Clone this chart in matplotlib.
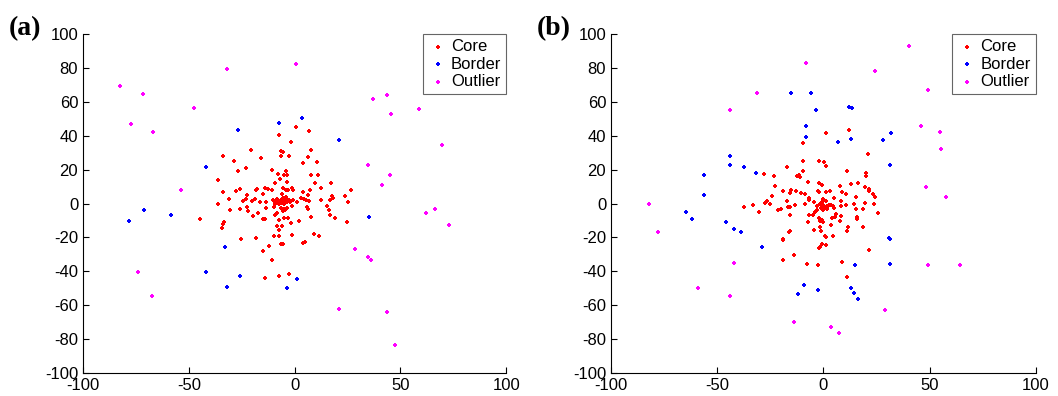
import numpy as np
import matplotlib
matplotlib.use("Agg")
import matplotlib.pyplot as plt

plt.rcParams["axes.unicode_minus"] = False

# ---- panel (a) ----
a_core_x = [0.8, 6.9, -7.2, -1.9, -20.8, -6.5, -5.7, 7.7, -33.7, -15.7, -6.5, -2.8, 6.1, -28.8, 3.9,
            10.4, -27.0, -22.8, -10.7, -7.9, -4.3, -4.9, -3.5, 7.7, 11.2, -6.9, -3.8, 9.8, 17.2, -36.1,
            -9.1, -1.4, -0.8, 12.6, -25.7, -17.8, -13.9, -12.6, -10.7, -5.7, -4.1, -3.0, 7.4, 26.8, -33.7,
            -27.9, -18.3, -14.8, -22.5, 3.8, -6.0, 6.3, 17.8, 18.3, 23.9, -31.2, -23.0, -18.9, 3.0, 4.4,
            16.5, -24.6, -20.2, -16.2, -13.5, -10.1, -9.1, -8.3, -7.6, -6.5, -5.7, -5.0, -4.3, -3.5, -2.8,
            -0.6, 1.1, 5.4, 6.8, 12.6, 25.0, -36.1, -9.1, -7.6, -6.5, -5.0, -1.1, -22.5, -13.5, -9.9,
            -6.5, -5.0, -3.5, 5.8, 15.3, -30.7, -26.0, -21.9, -5.4, -4.4, 6.3, 16.4, 16.9, -17.5, -8.3,
            -9.1, -19.7, 16.5, -3.0, -7.6, -5.0, 7.7, 19.2, -44.6, -15.0, -13.9, -33.4, -33.7, 24.6, 2.2,
            -1.6, -8.3, -6.0, -34.3, -7.2, -7.2, -9.8, -1.3, 9.3, 11.7, -25.2, -18.4, -6.6, -5.7, 4.1,
            4.9, -12.1, -15.0, -10.9, -14.0, -7.2, -2.5, -4.6, -6.2, -3.9, -7.0, -5.3, -8.8, -2.2, -4.0]
a_core_y = [45.3, 43.0, 40.4, 36.1, 31.6, 31.2, 30.4, 31.8, 28.2, 26.9, 27.8, 27.8, 27.2, 25.3, 23.9,
            24.5, 19.0, 20.9, 20.0, 17.4, 19.0, 17.0, 16.6, 16.6, 16.6, 14.5, 12.9, 11.9, 12.1, 13.7,
            12.1, 9.1, 8.0, 9.1, 8.7, 8.7, 9.1, 8.4, 8.2, 9.1, 8.2, 8.2, 8.0, 7.8, 6.8,
            7.2, 7.8, 5.8, 5.2, 6.8, 5.6, 4.8, 4.6, 3.4, 4.6, 2.8, 2.7, 2.7, 3.2, 2.9,
            2.3, 1.5, 1.5, 1.1, 1.1, 2.3, 1.1, 2.7, 1.7, 2.3, 3.1, 1.5, 2.3, 1.1, 1.9,
            1.9, 1.1, 2.3, 1.5, 1.9, 1.1, -0.5, -0.1, -0.5, 0.3, -0.1, -1.5, -2.1, -2.5, -2.1,
            -2.7, -3.0, -2.5, -2.1, -1.7, -3.9, -3.0, -4.4, -4.4, -3.9, -3.0, -3.6, -6.6, -5.8, -5.8,
            -7.0, -7.4, -6.6, -8.6, -9.5, -8.6, -8.2, -8.6, -9.4, -9.4, -9.4, -11.1, -12.1, -10.7, -10.5,
            -11.7, -13.3, -13.3, -14.7, -15.8, -19.0, -19.4, -18.6, -18.0, -19.0, -20.9, -20.5, -23.9, -23.9, -23.1,
            -22.5, -25.3, -28.2, -33.5, -43.8, -42.8, -41.8, 0.6, 0.9, 2.6, 0.2, 1.3, 0.4, 0.8, 3.6]
a_border_x = [-7.2, 3.5, -26.8, 20.8, -41.7, -71.2, -78.4, -58.6, 35.3, -32.9, -41.7, -26.0, -31.8, 1.3, -3.8]
a_border_y = [47.7, 50.2, 43.4, 37.5, 21.3, -3.8, -10.1, -7.0, -8.0, -25.5, -40.4, -42.8, -49.1, -44.7, -50.1]
a_out_x = [-82.4, -77.5, -71.7, -66.8, -47.4, -32.0, 0.5, -53.7, -74.0, -67.4, 36.9, 43.8, 45.7, 58.7,
           69.8, 34.6, 45.0, 41.4, 61.9, 66.3, 72.9, 28.3, 34.6, 36.1, 20.8, 43.8, 47.2]
a_out_y = [69.1, 46.7, 64.8, 42.4, 56.1, 79.3, 82.3, 8.2, -40.4, -54.6, 61.8, 64.2, 53.0, 56.0,
           34.5, 22.9, 16.6, 11.1, -5.8, -3.0, -12.7, -26.8, -31.6, -33.1, -62.2, -63.8, -83.7]

# ---- panel (b) ----
b_core_x = [1.2, 12.2, -9.7, 21.1, -9.5, -2.0, 0.1, 1.2, -17.4, -9.5, 11.2, -27.9, -23.3, 20.0, 20.0,
            -12.5, -11.6, -11.1, -7.3, -2.1, 12.8, 16.3, -0.9, 7.8, 19.7, 21.4, 21.6, -22.9, -19.2, -15.5,
            -12.9, -10.8, -8.5, -2.0, -2.6, 1.3, 3.1, 8.7, 10.6, 23.5, 24.3, -15.6, -24.4, 5.1, 15.5,
            -6.7, -0.4, -6.7, -26.5, -27.6, -25.1, -17.0, -4.3, 1.0, 8.3, 19.7, 23.8, -33.4, -37.6, -13.5,
            -8.5, -2.9, -1.7, -0.7, -0.1, 0.7, 1.8, 3.5, 4.6, 5.1, 8.4, 10.8, 14.4, -16.6, -15.8,
            -20.2, -21.3, -30.5, -3.2, -0.1, -3.8, 1.8, 15.2, 18.5, 25.8, -15.6, -6.7, -5.1, 5.7, 5.2,
            8.1, 16.0, 16.0, -2.0, -0.9, 4.1, -1.5, -7.2, 7.7, -0.4, -4.3, -1.5, 11.4, 18.8, 3.4,
            -15.6, -16.1, -1.2, 10.9, 1.0, 4.5, 0.9, -19.1, -18.9, -0.7, 1.2, -1.7, -2.0, 21.6, -13.7,
            -19.2, 8.7, -7.6, -2.7, 11.1, -1.0, 0.4, 2.4, -0.5, 1.5]
b_core_y = [41.9, 43.4, 35.9, 29.4, 24.9, 25.1, 24.3, 22.0, 21.5, 19.4, 19.4, 17.6, 16.0, 18.0, 16.0,
            16.0, 16.8, 15.6, 12.5, 12.3, 11.5, 12.3, 10.9, 10.1, 9.5, 8.7, 7.2, 10.1, 7.2, 8.0,
            7.6, 6.2, 5.8, 6.8, 7.6, 6.6, 7.2, 6.6, 5.8, 5.6, 4.0, 6.2, 4.2, 3.2, 3.8,
            2.3, 2.5, 3.2, 1.3, 0.3, -0.1, 1.3, 1.1, 1.7, 1.5, 0.5, -0.1, -1.1, -1.9, -0.9,
            -0.5, -1.3, -0.5, -0.1, -1.1, -2.1, -1.3, -0.7, -1.7, -2.5, -1.7, -1.1, -0.5, -2.1, -1.9,
            -3.0, -3.6, -4.8, -3.6, -4.0, -5.0, -3.0, -3.0, -3.4, -5.8, -6.8, -6.6, -6.6, -6.0, -7.8,
            -7.2, -8.2, -9.3, -8.7, -9.9, -8.6, -10.2, -10.7, -10.1, -10.7, -15.4, -13.9, -14.1, -14.1, -12.9,
            -16.0, -16.8, -16.4, -16.4, -19.6, -19.0, -19.2, -20.9, -21.3, -23.9, -24.5, -25.9, -26.5, -27.6, -30.2,
            -33.5, -34.5, -35.6, -36.5, -43.4, -2.8, -3.3, -0.9, 0.8, -2.4]
b_border_x = [-15.2, -6.1, -3.5, 11.9, 13.4, -8.1, -8.4, 6.7, 13.1, 28.0, 32.0, -44.1, -44.1, -37.3,
              -31.8, -56.3, -56.0, 31.5, -64.8, -61.7, -46.0, -42.2, -39.0, -28.8, 30.6, 31.2, 31.5,
              14.9, -9.1, -12.2, -2.6, 13.0, 14.3, 16.2]
b_border_y = [65.2, 65.2, 55.0, 57.0, 56.5, 45.7, 39.0, 36.5, 37.8, 37.5, 41.4, 28.2, 22.9, 21.5,
              18.0, 17.0, 4.8, 22.9, -4.8, -9.1, -11.1, -15.0, -17.0, -25.5, -20.5, -21.1, -35.6,
              -36.5, -48.3, -53.4, -51.1, -50.1, -52.7, -56.6]
b_out_x = [40.3, -8.1, 24.3, -31.5, -44.1, 49.3, 46.1, 54.9, 55.2, 48.3, 57.6, -82.2, -77.8, -42.2,
           -59.2, -43.8, 49.1, 64.4, 28.8, -13.7, 3.7, 7.5]
b_out_y = [92.9, 82.9, 78.0, 65.2, 55.0, 67.2, 45.7, 42.4, 32.2, 9.7, 3.8, -0.5, -16.6, -35.1,
           -49.7, -54.6, -36.1, -36.1, -62.8, -69.7, -73.0, -76.4]

panels = [
    ("(a)", [a_core_x, a_border_x, a_out_x], [a_core_y, a_border_y, a_out_y]),
    ("(b)", [b_core_x, b_border_x, b_out_x], [b_core_y, b_border_y, b_out_y]),
]
names = ["Core", "Border", "Outlier"]
colors = ["#ff0000", "#0000ff", "#ff00ff"]

fig = plt.figure(figsize=(10.58, 3.96), dpi=100)
rects = [[0.0785, 0.058, 0.400, 0.856], [0.5775, 0.058, 0.4017, 0.856]]

for rect, (label, xs, ys) in zip(rects, panels):
    ax = fig.add_axes(rect)
    for x, y, n, c in zip(xs, ys, names, colors):
        ax.scatter(x, y, s=12, marker="P", color=c, linewidths=0, label=n)
    ax.set_xlim(-100, 100)
    ax.set_ylim(-100, 100)
    ax.set_xticks([-100, -50, 0, 50, 100])
    ax.set_yticks(np.arange(-100, 101, 20))
    ax.spines["top"].set_visible(False)
    ax.spines["right"].set_visible(False)
    ax.tick_params(direction="in", length=4, labelsize=12)
    for t in ax.get_xticklabels() + ax.get_yticklabels():
        t.set_family("Liberation Sans")
    leg = ax.legend(loc="upper right", bbox_to_anchor=(1.0, 1.0), borderaxespad=0,
                    fancybox=False, frameon=True, handletextpad=0.2, borderpad=0.3,
                    labelspacing=0.15, handlelength=1.2, markerscale=0.7,
                    prop={"family": "Liberation Sans", "size": 12})
    leg.get_frame().set_edgecolor("#404040")
    leg.get_frame().set_linewidth(0.8)
    fig.text(rect[0] - 0.070, 0.895, label, fontsize=20, fontweight="bold",
             family="Liberation Serif", ha="left", va="bottom")

fig.savefig("out.png", dpi=100)
